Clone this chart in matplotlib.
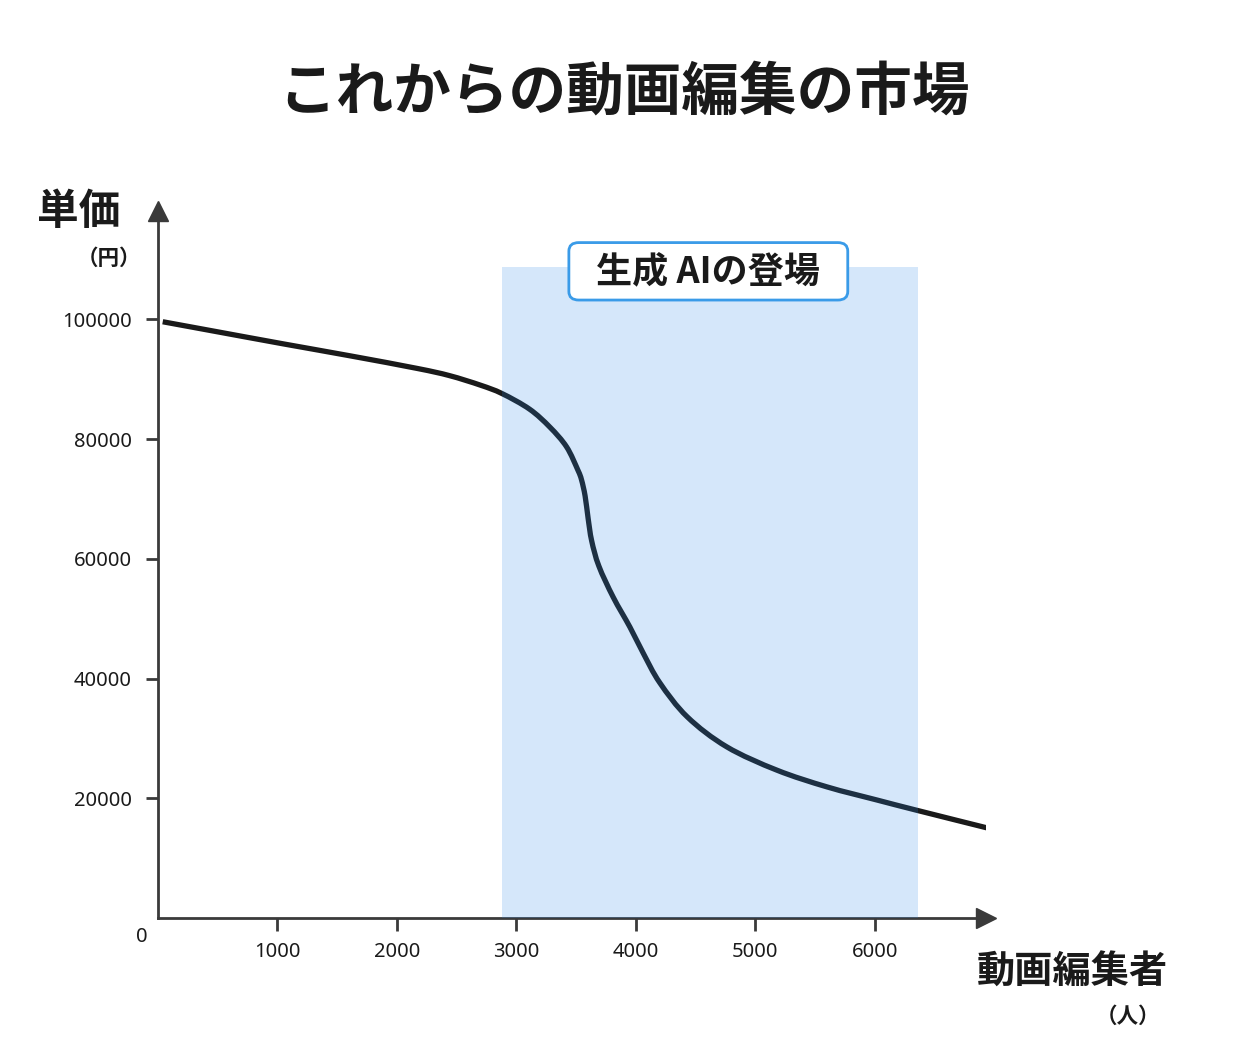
import numpy as np
import matplotlib.pyplot as plt
from matplotlib.patches import FancyBboxPatch, PathPatch
from matplotlib.path import Path

plt.rcParams['font.family'] = ['Noto Sans CJK JP', 'DejaVu Sans']

# --- データ ---
editors = [40, 490, 1050, 1610, 2170, 2440, 2700, 2880, 3110, 3280, 3420, 3515,
           3545, 3575, 3600, 3630, 3690, 3810, 3950, 4060, 4200, 4430, 4760,
           5180, 5600, 6020, 6350, 6950]
price = [99600, 97950, 95900, 93900, 91800, 90600, 89000, 87600, 85000, 82000,
         78700, 74800, 73200, 70500, 66800, 63000, 58800, 53600, 48600, 44300,
         39300, 33600, 28600, 24700, 21900, 19700, 18000, 15000]
ai_span = (2880, 6360)
ai_top = 108800
x_ticks = [1000, 2000, 3000, 4000, 5000, 6000]
y_ticks = [20000, 40000, 60000, 80000, 100000]

AXIS_COLOR = '#3a3a3a'
TEXT_COLOR = '#1a1a1a'


def smooth_path(xs, ys):
    """Catmull-Rom の点列をベジェ曲線のパスに変換する。"""
    pts = np.column_stack([xs, ys]).astype(float)
    verts = [pts[0]]
    codes = [Path.MOVETO]
    for i in range(len(pts) - 1):
        p0 = pts[max(i - 1, 0)]
        p1 = pts[i]
        p2 = pts[i + 1]
        p3 = pts[min(i + 2, len(pts) - 1)]
        verts += [p1 + (p2 - p0) / 6, p2 - (p3 - p1) / 6, p2]
        codes += [Path.CURVE4] * 3
    return Path(verts, codes)


fig = plt.figure(figsize=(12.34, 10.64), dpi=100)
ax = fig.add_axes([0.128, 0.1372, 0.671, 0.6645])

curve = PathPatch(smooth_path(editors, price), fc='none', ec=TEXT_COLOR, lw=3.8,
                  capstyle='butt', zorder=2)
ax.add_patch(curve)
ax.fill_between(ai_span, 0, ai_top, color='#2d8ae9', alpha=0.2, lw=0, zorder=3)

ax.set_xlim(0, 6930)
ax.set_ylim(0, 118100)
ax.set_xticks(x_ticks)
ax.set_yticks(y_ticks)
ax.set_xticklabels([str(v) for v in x_ticks], family=['Noto Sans', 'DejaVu Sans'])
ax.set_yticklabels([str(v) for v in y_ticks], family=['Noto Sans', 'DejaVu Sans'])
ax.tick_params(direction='out', length=9, width=2, color=AXIS_COLOR,
               labelsize=14.5, labelcolor=TEXT_COLOR)
ax.tick_params(axis='x', pad=8.5)
ax.tick_params(axis='y', pad=10)

for s in ['top', 'right']:
    ax.spines[s].set_visible(False)
for s in ['left', 'bottom']:
    ax.spines[s].set_color(AXIS_COLOR)
    ax.spines[s].set_linewidth(2)

# 矢印
ax.plot(1, 0, marker='>', ms=15, color=AXIS_COLOR, transform=ax.transAxes, clip_on=False)
ax.plot(0, 1, marker='^', ms=15, color=AXIS_COLOR, transform=ax.transAxes, clip_on=False)

ax.text(-0.013, -0.027, '0', transform=ax.transAxes, ha='right', va='center',
        fontsize=14.5, color=TEXT_COLOR, family=['Noto Sans', 'DejaVu Sans'])

# ラベル
fig.text(0.506, 0.913, 'これからの動画編集の市場', ha='center', va='center',
         fontsize=41.5, fontweight='bold', color=TEXT_COLOR)
fig.text(0.064, 0.801, '単価', ha='center', va='center', fontsize=30,
         fontweight='bold', color=TEXT_COLOR)
fig.text(0.088, 0.757, '（円）', ha='center', va='center', fontsize=15.5,
         fontweight='bold', color=TEXT_COLOR)
fig.text(0.869, 0.086, '動画編集者', ha='center', va='center', fontsize=27.5,
         fontweight='bold', color=TEXT_COLOR)
fig.text(0.914, 0.045, '（人）', ha='center', va='center', fontsize=15.5,
         fontweight='bold', color=TEXT_COLOR)

# 生成AIの登場ボックス
box = FancyBboxPatch((0.461, 0.718), 0.226, 0.054, transform=fig.transFigure,
                     boxstyle='round,pad=0,rounding_size=0.008',
                     fc='white', ec='#3a9be8', lw=2, zorder=5)
fig.patches.append(box)
fig.text(0.574, 0.7445, '生成 AIの登場', ha='center', va='center', fontsize=26,
         fontweight='bold', color=TEXT_COLOR, zorder=6)

fig.savefig('out.png', dpi=100)
